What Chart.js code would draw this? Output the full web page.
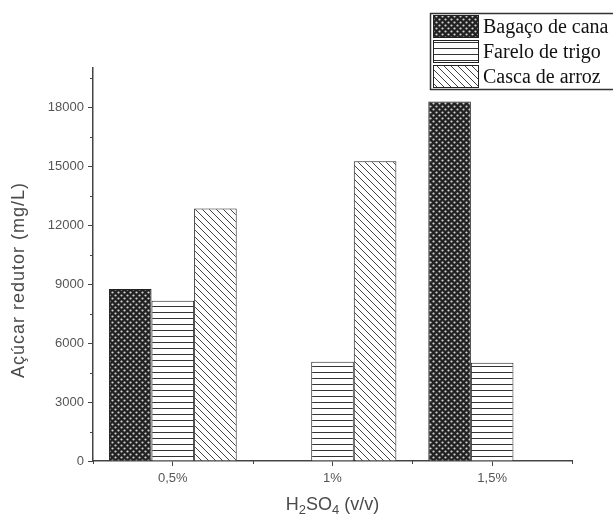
<!DOCTYPE html>
<html>
<head>
<meta charset="utf-8">
<script src="https://cdn.jsdelivr.net/npm/chart.js@4/dist/chart.umd.min.js"></script>
<style>
  html, body { margin: 0; padding: 0; background: #fff; }
  #wrap { width: 613px; height: 523px; position: relative; }
</style>
</head>
<body>
<div id="wrap"><canvas id="c" width="613" height="523"></canvas></div>
<script>
// Acid concentration (H2SO4, v/v) on the x axis
const categories = ['0,5%', '1%', '1,5%'];
const seriesNames = ['Bagaço de cana', 'Farelo de trigo', 'Casca de arroz'];
// Reducing sugar (mg/L) per biomass; null = no bar
const bagaco = [8750, null, 18300];
const farelo = [8150, 5050, 5000];
const casca = [12850, 15250, null];
const yTicks = [0, 3000, 6000, 9000, 12000, 15000, 18000];
const yMinorTicks = [1500, 4500, 7500, 10500, 13500, 16500, 19500];
const yMax = 20000;
const yTitle = 'Açúcar redutor (mg/L)';

const canvas = document.getElementById('c');
const ctx = canvas.getContext('2d');

function makePattern(w, h, draw) {
  const t = document.createElement('canvas');
  t.width = w; t.height = h;
  const g = t.getContext('2d');
  draw(g, w, h);
  return ctx.createPattern(t, 'repeat');
}

// dark dotted fill
const dotPattern = makePattern(6, 6, (g, w, h) => {
  g.fillStyle = '#222';
  g.fillRect(0, 0, w, h);
  g.fillStyle = '#d6d6d6';
  [[1.5, 1.5], [4.5, 4.5]].forEach(([x, y]) => {
    g.beginPath(); g.arc(x, y, 1.1, 0, Math.PI * 2); g.fill();
  });
});

// horizontal line hatch
const hLinePattern = makePattern(6, 6, (g, w, h) => {
  g.fillStyle = '#fff';
  g.fillRect(0, 0, w, h);
  g.fillStyle = '#333';
  g.fillRect(0, 0, w, 1);
});

// diagonal "\" hatch
const diagPattern = makePattern(7, 7, (g, w, h) => {
  g.fillStyle = '#fff';
  g.fillRect(0, 0, w, h);
  g.strokeStyle = '#444';
  g.lineWidth = 1;
  for (let k = -w; k <= w; k += w) {
    g.beginPath(); g.moveTo(k, 0); g.lineTo(k + w, h); g.stroke();
  }
});

const fills = [dotPattern, hLinePattern, diagPattern];

// minor tick marks on both axes
const minorTicks = {
  id: 'minorTicks',
  afterDraw(chart) {
    const c = chart.ctx;
    const xs = chart.scales.x, ys = chart.scales.y;
    const area = chart.chartArea;
    c.save();
    c.strokeStyle = '#444';
    c.lineWidth = 1;
    yMinorTicks.forEach(v => {
      const y = Math.round(ys.getPixelForValue(v)) + 0.5;
      c.beginPath(); c.moveTo(area.left, y); c.lineTo(area.left - 3, y); c.stroke();
    });
    const n = categories.length;
    for (let i = 0; i <= n; i++) {
      let x;
      if (i === 0) x = area.left;
      else if (i === n) x = area.right;
      else x = (xs.getPixelForTick(i - 1) + xs.getPixelForTick(i)) / 2;
      x = Math.round(x) + 0.5;
      c.beginPath(); c.moveTo(x, area.bottom); c.lineTo(x, area.bottom + 3); c.stroke();
    }
    c.restore();
  }
};

// axis titles (x title carries chemical subscripts)
const axisTitles = {
  id: 'axisTitles',
  afterDraw(chart) {
    const c = chart.ctx;
    const area = chart.chartArea;
    c.save();
    c.fillStyle = '#4a4a4a';
    // y title
    c.save();
    c.translate(19, 280);
    c.rotate(-Math.PI / 2);
    c.font = '18px "Liberation Sans", Arial, sans-serif';
    c.letterSpacing = '1px';
    c.textAlign = 'center';
    c.textBaseline = 'middle';
    c.fillText(yTitle, 0, 0);
    c.restore();
    // x title: H2SO4 (v/v)
    const parts = [['H', 0], ['2', 1], ['SO', 0], ['4', 1], [' (v/v)', 0]];
    const big = '18px "Liberation Sans", Arial, sans-serif';
    const small = '13px "Liberation Sans", Arial, sans-serif';
    let total = 0;
    parts.forEach(([t, sub]) => { c.font = sub ? small : big; total += c.measureText(t).width; });
    let x = (area.left + area.right) / 2 - total / 2;
    const base = 510;
    c.textAlign = 'left';
    c.textBaseline = 'alphabetic';
    parts.forEach(([t, sub]) => {
      c.font = sub ? small : big;
      c.fillText(t, x, sub ? base + 4 : base);
      x += c.measureText(t).width;
    });
    c.restore();
  }
};

// boxed legend in the upper right corner
const legendBox = {
  id: 'legendBox',
  afterDraw(chart) {
    const c = chart.ctx;
    const left = 430, top = 13, rowH = 25;
    const rows = chart.data.datasets.length;
    c.save();
    c.fillStyle = '#fff';
    c.fillRect(left, top, 200, rowH * rows + 1);
    c.strokeStyle = '#333';
    c.lineWidth = 1.5;
    c.strokeRect(left + 0.5, top + 0.5, 200, rowH * rows + 1);
    chart.data.datasets.forEach((ds, i) => {
      const y0 = top + 2 + i * rowH;
      c.fillStyle = ds.backgroundColor;
      c.fillRect(433, y0, 45, rowH - 2);
      c.strokeStyle = '#222';
      c.lineWidth = 1;
      c.strokeRect(433.5, y0 + 0.5, 45, rowH - 3);
      c.fillStyle = '#111';
      c.font = '20px "Liberation Serif"';
      c.textBaseline = 'middle';
      c.textAlign = 'left';
      c.fillText(ds.label, 483, y0 + rowH / 2);
    });
    c.restore();
  }
};

const tickFont = { family: '"Liberation Sans", Arial, sans-serif', size: 13 };

new Chart(ctx, {
  type: 'bar',
  data: {
    labels: categories,
    datasets: [bagaco, farelo, casca].map((values, i) => ({
      label: seriesNames[i],
      data: values,
      backgroundColor: fills[i],
      borderColor: '#222',
      borderWidth: 1
    }))
  },
  options: {
    responsive: false,
    animation: false,
    devicePixelRatio: 1,
    layout: { padding: { top: 68, right: 41, left: 0, bottom: 0 } },
    datasets: { bar: { barPercentage: 1, categoryPercentage: 0.8 } },
    plugins: { legend: { display: false }, tooltip: { enabled: false } },
    scales: {
      x: {
        offset: true,
        grid: { display: true, drawOnChartArea: false, offset: false, tickLength: 5, color: '#444', tickColor: '#444' },
        border: { color: '#444', width: 1.5 },
        ticks: { color: '#555', font: tickFont, padding: 5 },
        afterFit: s => { s.height = 62; }
      },
      y: {
        min: 0,
        max: yMax,
        afterBuildTicks: s => { s.ticks = yTicks.map(v => ({ value: v })); },
        grid: { display: true, drawOnChartArea: false, tickLength: 5, color: '#444', tickColor: '#444' },
        border: { color: '#444', width: 1.5 },
        ticks: { color: '#555', font: tickFont, padding: 4, callback: v => String(v) },
        afterFit: s => { s.width = 93; }
      }
    }
  },
  plugins: [minorTicks, axisTitles, legendBox]
});
</script>
</body>
</html>
